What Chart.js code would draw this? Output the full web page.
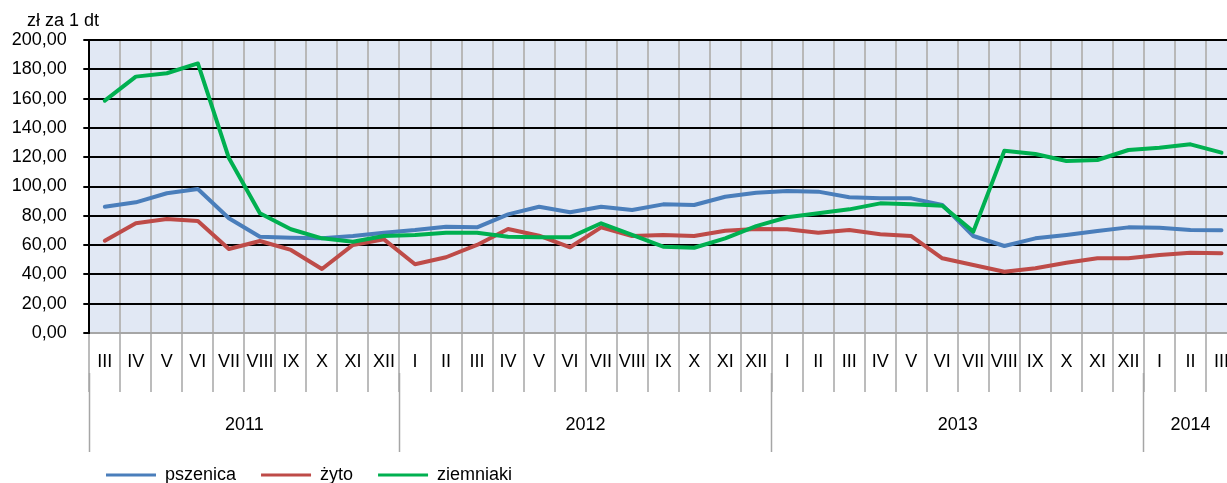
<!DOCTYPE html>
<html>
<head>
<meta charset="utf-8">
<script src="https://cdn.jsdelivr.net/npm/chart.js@4.4.1/dist/chart.umd.min.js"></script>
<style>
html, body { margin: 0; padding: 0; background: #fff; overflow: hidden; }
#wrap { width: 1237px; height: 483px; }
</style>
</head>
<body>
<div id="wrap"><canvas id="ceny" width="1237" height="483"></canvas></div>
<script>
// miesiace III 2011 - III 2014
var months = ['III','IV','V','VI','VII','VIII','IX','X','XI','XII',
	'I','II','III','IV','V','VI','VII','VIII','IX','X','XI','XII',
	'I','II','III','IV','V','VI','VII','VIII','IX','X','XI','XII',
	'I','II','III'];
var years = ['2011', '2012', '2013', '2014'];
var yearMonths = [10, 12, 12, 3];

var pszenica = [86.2, 89.2, 95.4, 98.3, 78.3, 65.7, 65.1, 64.6, 66.2, 68.5,
	70.3, 72.6, 72.1, 81.0, 86.2, 82.4, 86.2, 84.0, 87.8, 87.4, 93.0, 95.8,
	96.9, 96.5, 92.6, 91.9, 91.9, 87.4, 66.2, 59.4, 64.6, 66.9, 69.6, 72.1,
	71.9, 70.3, 70.1];
var zyto = [63.0, 74.9, 77.8, 76.5, 57.3, 62.8, 56.7, 43.7, 60.1, 63.9,
	46.9, 51.7, 60.1, 71.0, 66.4, 58.5, 72.1, 66.2, 66.9, 66.2, 69.8, 71.0,
	70.8, 68.5, 70.3, 67.4, 66.2, 51.0, 46.4, 41.8, 44.2, 48.0, 51.0, 51.0,
	53.2, 54.8, 54.4];
var ziemniaki = [158.6, 175.0, 177.3, 184.0, 119.4, 81.7, 70.8, 64.6, 62.3, 66.2,
	66.9, 68.5, 68.5, 65.7, 65.3, 65.3, 74.9, 66.9, 58.9, 58.2, 64.6, 73.0,
	79.0, 81.7, 84.4, 88.5, 87.8, 86.9, 69.2, 124.4, 122.2, 117.4, 118.1, 124.9,
	126.5, 128.8, 123.1];

var yMin = 0;
var yMax = 200;
var yStep = 20;
var unitLabel = 'zł za 1 dt';

// granice lat i srodki podpisow (w jednostkach indeksu miesiaca)
var yearEdges = [];
var yearMids = [];
var pos = -0.5;
for (let i = 0; i < yearMonths.length; i++) {
	yearEdges.push(pos);
	yearMids.push(pos + yearMonths[i] / 2);
	pos += yearMonths[i];
}

var FONT = '"Liberation Sans", Arial, sans-serif';
Chart.defaults.font.family = FONT;
Chart.defaults.font.size = 18;
Chart.defaults.color = '#000';

var tlo = {
	id: 'tlo',
	beforeDraw: function(chart) {
		var a = chart.chartArea;
		var ctx = chart.ctx;
		// legenda zaczyna sie pod osia, jak w oryginale
		if (chart.legend) chart.legend.left = 81;
		ctx.save();
		ctx.fillStyle = '#e1e8f4';
		ctx.fillRect(a.left, a.top, a.right - a.left, a.bottom - a.top);
		ctx.restore();
	},
	afterDraw: function(chart) {
		var ctx = chart.ctx;
		ctx.save();
		ctx.font = '18px ' + FONT;
		ctx.fillStyle = '#000';
		ctx.textBaseline = 'middle';
		ctx.fillText(unitLabel, 27, 21);
		ctx.restore();
	}
};

var chartData = {
	labels: months,
	datasets: [{
		label: 'pszenica',
		data: pszenica,
		borderColor: '#4a7ebb',
		backgroundColor: '#4a7ebb',
		order: 3
	}, {
		label: 'żyto',
		data: zyto,
		borderColor: '#be4b48',
		backgroundColor: '#be4b48',
		order: 2
	}, {
		label: 'ziemniaki',
		data: ziemniaki,
		borderColor: '#00b050',
		backgroundColor: '#00b050',
		order: 1
	}]
};

var ctx = document.getElementById('ceny');
var wykres = new Chart(ctx, {
	type: 'line',
	data: chartData,
	plugins: [tlo],
	options: {
		responsive: false,
		animation: false,
		layout: { padding: { left: 0, top: 40, right: 0, bottom: -11 } },
		elements: {
			line: { borderWidth: 4, tension: 0, borderJoinStyle: 'round', borderCapStyle: 'round' },
			point: { radius: 0 }
		},
		scales: {
			x: {
				type: 'category',
				offset: true,
				weight: 0,
				grid: {
					offset: true,
					color: function(c) { return c.index === 0 ? 'rgba(0,0,0,0)' : '#b8b8b8'; },
					lineWidth: 2,
					tickLength: 59,
					tickColor: '#a6a6a6',
					tickWidth: 1.5
				},
				border: { color: '#a6a6a6', width: 2 },
				ticks: { autoSkip: false, maxRotation: 0, minRotation: 0, padding: -40.8 },
				afterFit: function(s) { s.height = 40; }
			},
			x2: {
				type: 'linear',
				position: 'bottom',
				weight: 1,
				min: -0.5,
				max: 36.5,
				afterBuildTicks: function(s) {
					s.ticks = yearEdges.concat(yearMids).sort(function(a, b) { return a - b; })
						.map(function(v) { return { value: v }; });
				},
				grid: {
					drawOnChartArea: false,
					tickLength: 79,
					tickWidth: 1.5,
					tickColor: function(c) {
						return yearEdges.indexOf(c.tick.value) >= 0 ? '#a6a6a6' : 'rgba(0,0,0,0)';
					}
				},
				border: { display: false },
				ticks: {
					autoSkip: false, maxRotation: 0, minRotation: 0, padding: -37.8,
					callback: function(value) {
						var k = yearMids.indexOf(value);
						return k >= 0 ? years[k] : '';
					}
				},
				afterFit: function(s) { s.height = 68; }
			},
			y: {
				min: yMin,
				max: yMax,
				ticks: {
					stepSize: yStep,
					padding: 16.6,
					callback: function(v) { return v.toFixed(2).replace('.', ','); }
				},
				grid: {
					color: function(c) { return c.tick && c.tick.value === 0 ? 'rgba(0,0,0,0)' : '#000'; },
					lineWidth: 2,
					tickLength: 6,
					tickColor: '#000',
					tickWidth: 2
				},
				border: { color: '#000', width: 2 },
				afterFit: function(s) { s.width = 89.3; }
			}
		},
		plugins: {
			tooltip: { enabled: false },
			legend: {
				position: 'bottom',
				align: 'start',
				labels: {
					boxWidth: 50,
					boxHeight: 3,
					padding: 25,
					sort: function(a, b) { return a.datasetIndex - b.datasetIndex; },
					generateLabels: function(chart) {
						return Chart.defaults.plugins.legend.labels.generateLabels(chart).map(function(l) {
							l.fillStyle = l.strokeStyle;
							l.lineWidth = 0;
							return l;
						});
					}
				}
			}
		}
	}
});
</script>
</body>
</html>
